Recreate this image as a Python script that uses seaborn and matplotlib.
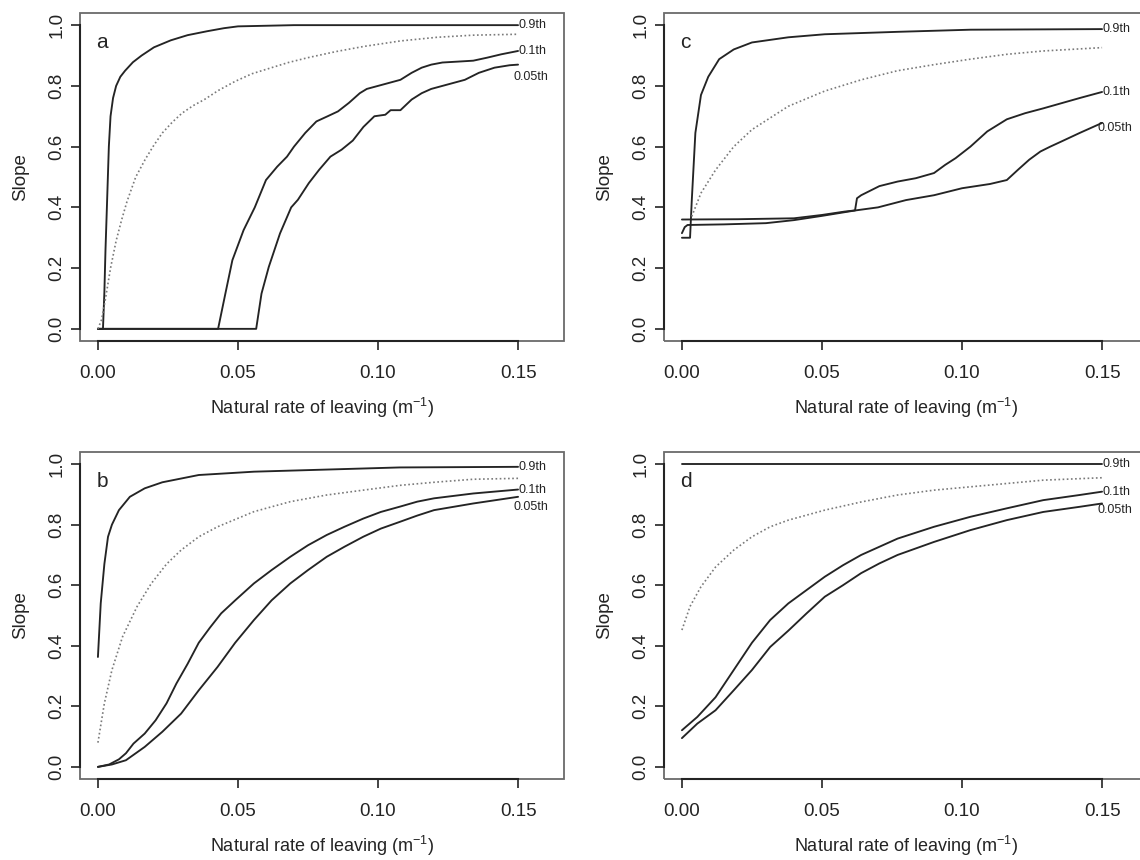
import matplotlib
matplotlib.use("Agg")
import matplotlib.pyplot as plt
import seaborn as sns
from matplotlib.patches import Rectangle

# ---------------- data: slope vs natural rate of leaving ----------------
# panel a
a_q90_x = [0, 0.0018, 0.0023, 0.0027, 0.0032, 0.0039, 0.0045, 0.0054, 0.0065, 0.0080, 0.0097,
           0.0125, 0.0156, 0.020, 0.026, 0.032, 0.039, 0.045, 0.050, 0.07, 0.10, 0.13, 0.15]
a_q90_y = [0, 0, 0.12, 0.26, 0.40, 0.60, 0.70, 0.76, 0.80, 0.83, 0.85,
           0.878, 0.90, 0.927, 0.95, 0.967, 0.98, 0.99, 0.996, 1.0, 1.0, 1.0, 1.0]
a_mid_x = [0, 0.0013, 0.0026, 0.0045, 0.0065, 0.0085, 0.0104, 0.0135, 0.017, 0.020, 0.023, 0.0265,
           0.030, 0.034, 0.038, 0.043, 0.049, 0.055, 0.062, 0.068, 0.075, 0.085, 0.095, 0.108,
           0.121, 0.134, 0.15]
a_mid_y = [0, 0.03, 0.094, 0.20, 0.29, 0.36, 0.42, 0.50, 0.56, 0.605, 0.645, 0.68,
           0.71, 0.735, 0.755, 0.785, 0.815, 0.84, 0.86, 0.877, 0.893, 0.913, 0.93, 0.948,
           0.96, 0.967, 0.97]
a_q10_x = [0, 0.0429, 0.0455, 0.048, 0.052, 0.056, 0.060, 0.064, 0.0675, 0.070, 0.074, 0.078,
           0.082, 0.0857, 0.0896, 0.0935, 0.096, 0.100, 0.104, 0.108, 0.112, 0.1156, 0.119,
           0.123, 0.1286, 0.134, 0.139, 0.144, 0.15]
a_q10_y = [0, 0, 0.116, 0.226, 0.325, 0.40, 0.49, 0.534, 0.567, 0.60, 0.645, 0.683,
           0.70, 0.716, 0.744, 0.776, 0.79, 0.80, 0.81, 0.82, 0.843, 0.86, 0.87,
           0.877, 0.88, 0.883, 0.893, 0.904, 0.915]
a_q05_x = [0, 0.0565, 0.0584, 0.061, 0.065, 0.069, 0.0714, 0.0753, 0.079, 0.083, 0.087, 0.091,
           0.0948, 0.0987, 0.1026, 0.1045, 0.108, 0.112, 0.1156, 0.119, 0.123, 0.127, 0.131,
           0.136, 0.1416, 0.147, 0.15]
a_q05_y = [0, 0, 0.116, 0.204, 0.314, 0.40, 0.425, 0.48, 0.524, 0.567, 0.59, 0.62,
           0.665, 0.70, 0.705, 0.72, 0.72, 0.755, 0.776, 0.79, 0.80, 0.81, 0.82,
           0.843, 0.86, 0.868, 0.87]

# panel b
b_q90_x = [0, 0.001, 0.0023, 0.0036, 0.005, 0.0075, 0.0114, 0.0167, 0.023, 0.036, 0.0557,
           0.0817, 0.1077, 0.15]
b_q90_y = [0.363, 0.54, 0.67, 0.76, 0.80, 0.848, 0.892, 0.92, 0.94, 0.964, 0.975,
           0.982, 0.989, 0.991]
b_mid_x = [0, 0.0023, 0.005, 0.0088, 0.014, 0.019, 0.0245, 0.0297, 0.036, 0.0427, 0.0557,
           0.0687, 0.0817, 0.0947, 0.108, 0.12, 0.134, 0.15]
b_mid_y = [0.08, 0.21, 0.32, 0.43, 0.53, 0.605, 0.67, 0.716, 0.76, 0.793, 0.843,
           0.876, 0.898, 0.914, 0.93, 0.94, 0.95, 0.953]
b_q10_x = [0, 0.004, 0.0075, 0.010, 0.0127, 0.0167, 0.0206, 0.0245, 0.028, 0.032, 0.036, 0.040,
           0.044, 0.049, 0.0557, 0.062, 0.0687, 0.075, 0.0817, 0.088, 0.0947, 0.101, 0.108,
           0.114, 0.12, 0.134, 0.15]
b_q10_y = [0, 0.008, 0.025, 0.045, 0.077, 0.11, 0.154, 0.21, 0.275, 0.34, 0.41, 0.46,
           0.507, 0.55, 0.606, 0.65, 0.694, 0.732, 0.766, 0.793, 0.82, 0.842, 0.86,
           0.876, 0.887, 0.903, 0.916]
b_q05_x = [0, 0.005, 0.01, 0.0167, 0.023, 0.0297, 0.036, 0.0427, 0.049, 0.0557, 0.062, 0.0687,
           0.075, 0.0817, 0.088, 0.0947, 0.101, 0.108, 0.114, 0.12, 0.134, 0.15]
b_q05_y = [0, 0.008, 0.022, 0.066, 0.116, 0.176, 0.253, 0.33, 0.41, 0.485, 0.55, 0.606,
           0.65, 0.694, 0.727, 0.76, 0.787, 0.81, 0.83, 0.848, 0.87, 0.892]

# panel c
c_q90_x = [0, 0.0029, 0.0032, 0.0035, 0.0048, 0.0068, 0.0094, 0.0133, 0.0185, 0.025, 0.038,
           0.051, 0.077, 0.103, 0.15]
c_q90_y = [0.30, 0.30, 0.36, 0.42, 0.645, 0.77, 0.83, 0.888, 0.92, 0.943, 0.96,
           0.97, 0.978, 0.985, 0.987]
c_mid_x = [0.0035, 0.0068, 0.012, 0.0185, 0.025, 0.038, 0.051, 0.064, 0.077, 0.09, 0.103,
           0.116, 0.129, 0.15]
c_mid_y = [0.37, 0.447, 0.523, 0.60, 0.656, 0.733, 0.783, 0.82, 0.85, 0.87, 0.888,
           0.904, 0.915, 0.926]
c_q10_x = [0, 0.02, 0.04, 0.05, 0.058, 0.0618, 0.0625, 0.064, 0.0705, 0.077, 0.0835, 0.09,
           0.094, 0.0977, 0.103, 0.109, 0.116, 0.1225, 0.129, 0.1355, 0.142, 0.15]
c_q10_y = [0.36, 0.361, 0.364, 0.375, 0.386, 0.39, 0.43, 0.44, 0.47, 0.485, 0.496, 0.513,
           0.54, 0.562, 0.60, 0.65, 0.69, 0.71, 0.726, 0.743, 0.76, 0.78]
c_q05_x = [0, 0.001, 0.002, 0.015, 0.03, 0.04, 0.05, 0.062, 0.07, 0.08, 0.09, 0.10, 0.11,
           0.116, 0.12, 0.124, 0.128, 0.1315, 0.1355, 0.142, 0.15]
c_q05_y = [0.315, 0.335, 0.342, 0.344, 0.348, 0.358, 0.372, 0.39, 0.40, 0.424, 0.44, 0.463,
           0.477, 0.49, 0.524, 0.557, 0.584, 0.60, 0.617, 0.645, 0.678]

# panel d
d_q90_x = [0, 0.15]
d_q90_y = [1.0, 1.0]
d_mid_x = [0, 0.0029, 0.0068, 0.012, 0.0185, 0.025, 0.0315, 0.038, 0.051, 0.064, 0.077,
           0.09, 0.103, 0.116, 0.129, 0.15]
d_mid_y = [0.452, 0.53, 0.595, 0.66, 0.716, 0.76, 0.793, 0.815, 0.848, 0.875, 0.898,
           0.914, 0.925, 0.936, 0.947, 0.955]
d_q10_x = [0, 0.0055, 0.012, 0.0185, 0.025, 0.0315, 0.038, 0.0445, 0.051, 0.0575, 0.064,
           0.0705, 0.077, 0.09, 0.103, 0.116, 0.129, 0.142, 0.15]
d_q10_y = [0.121, 0.165, 0.23, 0.32, 0.41, 0.485, 0.54, 0.584, 0.628, 0.666, 0.70,
           0.727, 0.754, 0.793, 0.826, 0.854, 0.881, 0.898, 0.909]
d_q05_x = [0, 0.0055, 0.012, 0.0185, 0.025, 0.0315, 0.038, 0.0445, 0.051, 0.0575, 0.064,
           0.0705, 0.077, 0.09, 0.103, 0.116, 0.129, 0.142, 0.15]
d_q05_y = [0.095, 0.143, 0.187, 0.253, 0.32, 0.396, 0.45, 0.507, 0.562, 0.60, 0.64,
           0.672, 0.70, 0.743, 0.782, 0.815, 0.842, 0.859, 0.87]

quantile_names = ["0.9th", "0.1th", "0.05th"]
# label anchor (x, y) for each quantile label, per panel
label_pos = {
    "a": [(0.150, 1.000), (0.150, 0.915), (0.1485, 0.830)],
    "b": [(0.150, 0.991), (0.150, 0.916), (0.1485, 0.857)],
    "c": [(0.150, 0.987), (0.150, 0.780), (0.1485, 0.660)],
    "d": [(0.150, 1.000), (0.150, 0.909), (0.1485, 0.848)],
}

panels = {
    "a": dict(q90=(a_q90_x, a_q90_y), mid=(a_mid_x, a_mid_y), q10=(a_q10_x, a_q10_y), q05=(a_q05_x, a_q05_y)),
    "b": dict(q90=(b_q90_x, b_q90_y), mid=(b_mid_x, b_mid_y), q10=(b_q10_x, b_q10_y), q05=(b_q05_x, b_q05_y)),
    "c": dict(q90=(c_q90_x, c_q90_y), mid=(c_mid_x, c_mid_y), q10=(c_q10_x, c_q10_y), q05=(c_q05_x, c_q05_y)),
    "d": dict(q90=(d_q90_x, d_q90_y), mid=(d_mid_x, d_mid_y), q10=(d_q10_x, d_q10_y), q05=(d_q05_x, d_q05_y)),
}

x_ticks = [0.00, 0.05, 0.10, 0.15]
y_ticks = [0.0, 0.2, 0.4, 0.6, 0.8, 1.0]

# ---------------- style ----------------
sns.set_theme(style="white")
plt.rcParams["font.family"] = ["Liberation Sans", "DejaVu Sans"]
plt.rcParams["mathtext.fontset"] = "custom"
plt.rcParams["mathtext.rm"] = "Liberation Sans"
plt.rcParams["mathtext.it"] = "Liberation Sans:italic"
plt.rcParams["mathtext.sf"] = "Liberation Sans"

W, H = 1140, 860
fig = plt.figure(figsize=(W / 100, H / 100), dpi=100)
fig.patch.set_facecolor("white")

# axes boxes in pixels: (left, top, width, height)
boxes = {
    "a": (80, 13, 484, 328),
    "c": (664, 13, 484, 328),
    "b": (80, 452, 484, 327),
    "d": (664, 452, 484, 327),
}

INK = "#242424"
BOX = "#6a6a6a"
DOT = "#7a7a7a"

for key, (l, t, w, h) in boxes.items():
    ax = fig.add_axes([l / W, (H - t - h) / H, w / W, h / H])
    ax.set_facecolor("white")
    series = panels[key]
    for name in ["q90", "q10", "q05"]:
        xs, ys = series[name]
        sns.lineplot(x=xs, y=ys, ax=ax, color=INK, linewidth=1.35,
                     estimator=None, sort=False, legend=False)
    xs, ys = series["mid"]
    sns.lineplot(x=xs, y=ys, ax=ax, color=DOT, linewidth=1.2,
                 estimator=None, sort=False, legend=False, linestyle=(0, (1, 1.5)))

    for (lx, ly), txt in zip(label_pos[key], quantile_names):
        ax.text(lx, ly, txt, fontsize=9, color=INK, ha="left", va="center")

    ax.text(-0.0005, 0.942, key, fontsize=15, color=INK, ha="left", va="center")

    ax.set_xlim(-0.0064, 0.1664)
    ax.set_ylim(-0.04, 1.04)

    # R-style frame: thin grey box plus dark axis lines spanning the ticks
    for s in ["top", "right"]:
        ax.spines[s].set_visible(False)
    ax.add_patch(Rectangle((0, 0), 1, 1, transform=ax.transAxes, fill=False,
                           edgecolor=BOX, linewidth=1.3, zorder=5, clip_on=False))
    ax.spines["left"].set_bounds(0, 1)
    ax.spines["bottom"].set_bounds(0, 0.15)
    for s in ["left", "bottom"]:
        ax.spines[s].set_color(INK)
        ax.spines[s].set_linewidth(1.5)
        ax.spines[s].set_zorder(6)

    ax.set_xticks(x_ticks)
    ax.set_xticklabels([f"{v:.2f}" for v in x_ticks])
    ax.set_yticks(y_ticks)
    ax.set_yticklabels([f"{v:.1f}" for v in y_ticks], rotation=90, va="center")
    ax.tick_params(axis="both", which="major", direction="out", length=6.5, width=1.2,
                   color=INK, labelsize=13.5, labelcolor=INK, bottom=True, left=True,
                   top=False, right=False)
    ax.tick_params(axis="x", pad=10.5)
    ax.tick_params(axis="y", pad=4)
    ax.grid(False)

    ax.set_xlabel(r"Natural rate of leaving (m$^{-1}$)", fontsize=13, color=INK, labelpad=10.5)
    ax.set_ylabel("Slope", fontsize=13.5, color=INK)
    ax.yaxis.set_label_coords(-0.105, 0.5)

fig.savefig("out.png", dpi=100, facecolor="white")
